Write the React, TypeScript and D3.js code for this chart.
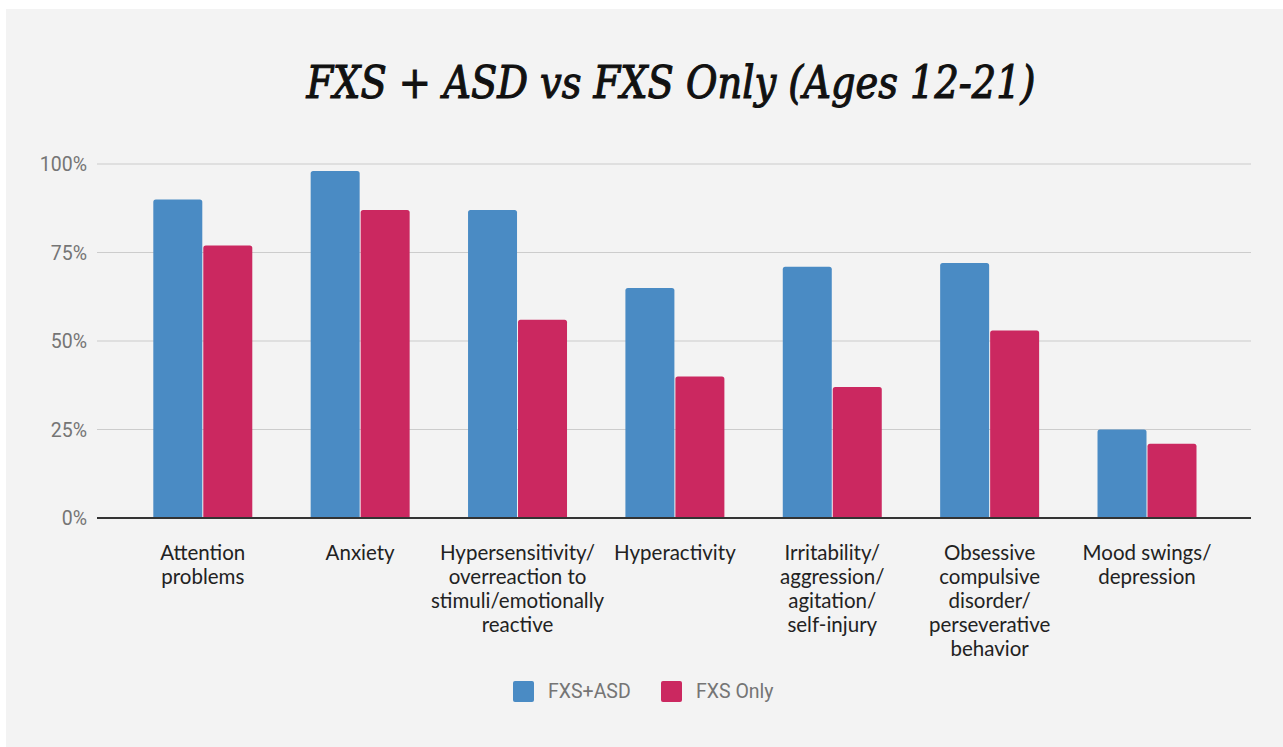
import React from "react";
import * as d3 from "d3";

const categories: string[][] = [
  ["Attention", "problems"],
  ["Anxiety"],
  ["Hypersensitivity/", "overreaction to", "stimuli/emotionally", "reactive"],
  ["Hyperactivity"],
  ["Irritability/", "aggression/", "agitation/", "self-injury"],
  ["Obsessive", "compulsive", "disorder/", "perseverative", "behavior"],
  ["Mood swings/", "depression"],
];
const seriesNames = ["FXS+ASD", "FXS Only"];
const fxsAsd = [90, 98, 87, 65, 71, 72, 25];
const fxsOnly = [77, 87, 56, 40, 37, 53, 21];
const yTicks = [0, 25, 50, 75, 100];
const colors = ["#4a8bc4", "#cb2860"];
const title = "FXS + ASD vs FXS Only (Ages 12-21)";

const W = 1283;
const H = 747;

function topRoundedBar(x: number, y: number, w: number, h: number, r: number) {
  const rr = Math.min(r, h / 2, w / 2);
  return `M${x},${y + h}V${y + rr}Q${x},${y} ${x + rr},${y}H${x + w - rr}Q${x + w},${y} ${x + w},${y + rr}V${y + h}Z`;
}

export default function App() {
  const keys = categories.map((c) => c.join(" "));
  const x0 = d3.scaleBand<string>().domain(keys).range([153.3, 1196.5]).paddingInner(0.371).paddingOuter(0);
  const x1 = d3.scaleBand<string>().domain(seriesNames).range([0, x0.bandwidth()]).paddingInner(0.02);
  const y = d3.scaleLinear().domain([0, 100]).range([518, 164]);
  const series = [fxsAsd, fxsOnly];

  return (
    <svg width={W} height={H} style={{ position: "absolute", left: 0, top: 0, display: "block" }}>
      <rect x={0} y={0} width={W} height={H} fill="#ffffff" />
      <rect x={6} y={9} width={W - 6} height={H - 9} fill="#f3f3f3" />
      <text
        x={671}
        y={98}
        textAnchor="middle"
        fontFamily="'DejaVu Serif Condensed', 'DejaVu Serif', serif"
        fontStretch="condensed"
        fontStyle="italic"
        fontWeight="normal"
        fontSize={45}
        fill="#111"
        stroke="#111"
        strokeWidth={1.1}
        textLength={729}
        lengthAdjust="spacingAndGlyphs"
      >
        {title}
      </text>
      {yTicks.map((t) => (
        <g key={t}>
          {t !== 0 && <line x1={97} x2={1251} y1={y(t)} y2={y(t)} stroke="#cccccc" strokeWidth={1.2} />}
          <text
            x={87}
            y={y(t) + 7}
            textAnchor="end"
            fontFamily="Roboto, sans-serif"
            fontSize={19.5}
            fill="#757575"
          >
            {t}%
          </text>
        </g>
      ))}
      {keys.map((k, i) => (
        <g key={k}>
          {series.map((s, si) => {
            const bx = (x0(k) ?? 0) + (x1(seriesNames[si]) ?? 0);
            const by = y(s[i]);
            return (
              <path
                key={si}
                d={topRoundedBar(bx, by, x1.bandwidth(), y(0) - by, 2.5)}
                fill={colors[si]}
              />
            );
          })}
          <text
            x={(x0(k) ?? 0) + x0.bandwidth() / 2}
            textAnchor="middle"
            fontFamily="Lato, sans-serif"
            fontSize={20.5}
            fill="#222"
          >
            {categories[i].map((line, li) => (
              <tspan key={li} x={(x0(k) ?? 0) + x0.bandwidth() / 2} y={560 + li * 24}>
                {line}
              </tspan>
            ))}
          </text>
        </g>
      ))}
      <line x1={97} x2={1251} y1={y(0)} y2={y(0)} stroke="#333" strokeWidth={2} />
      {seriesNames.map((n, i) => {
        const lx = [513, 661][i];
        return (
          <g key={n}>
            <rect x={lx} y={681} width={21} height={21} rx={2} fill={colors[i]} />
            <text x={lx + 35} y={698} fontFamily="Roboto, sans-serif" fontSize={19.5} fill="#757575">
              {n}
            </text>
          </g>
        );
      })}
    </svg>
  );
}
